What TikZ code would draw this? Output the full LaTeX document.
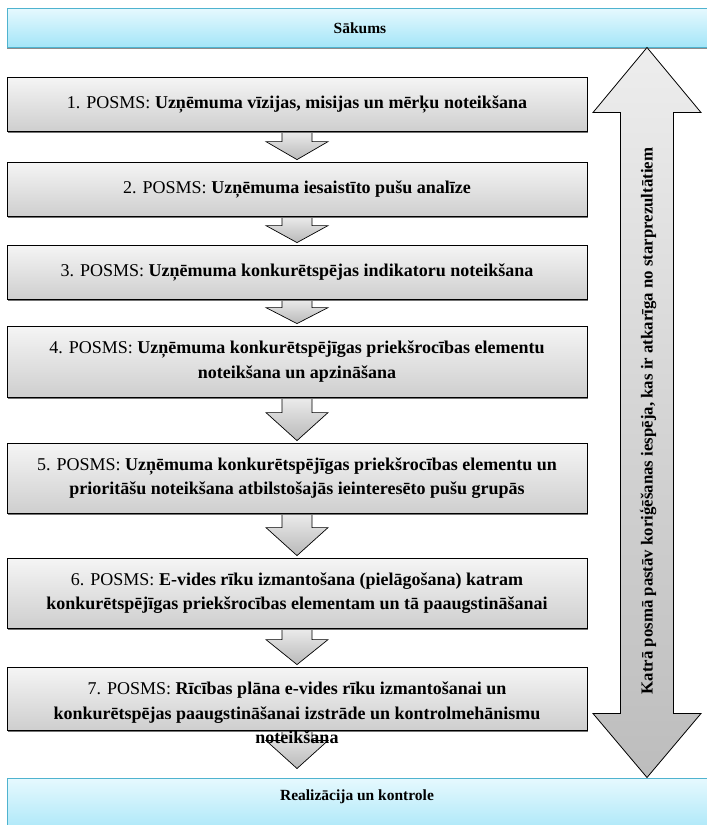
\documentclass[tikz,border=0pt]{standalone}
\usepackage{fontspec}
\setmainfont{Liberation Serif}
\usetikzlibrary{shadows,calc,backgrounds}
\definecolor{cyanedge}{HTML}{4FB3CF}
\definecolor{cyantop}{HTML}{E6F9FE}
\definecolor{cyanbot}{HTML}{A4E5F8}
\tikzset{
  stepbox/.style={draw=black, line width=0.8pt, top color=gray!8, bottom color=gray!38,
    drop shadow={shadow xshift=1.2pt, shadow yshift=-1.8pt, fill=black!55, opacity=1},
    minimum width=580pt, align=center, inner sep=0pt,
    font=\fontsize{18}{24.5}\selectfont},
  endbox/.style={draw=cyanedge, line width=1pt, top color=cyantop, bottom color=cyanbot,
    drop shadow={shadow xshift=0pt, shadow yshift=-1.8pt, fill=black!45, opacity=1},
    minimum width=706pt, inner sep=0pt},
  endtext/.style={font=\bfseries\fontsize{15.5}{18}\selectfont, inner sep=0pt},
  flowarrow/.style={draw=black, line width=0.7pt, top color=gray!15, bottom color=gray!55, line join=miter},
  bigarrow/.style={draw=black, line width=0.8pt, top color=gray!14, bottom color=gray!52, line join=miter},
}
\begin{document}
\begin{tikzpicture}[x=1pt,y=-1pt]
\useasboundingbox (0,0) rectangle (707,825);
\clip (0,0) rectangle (707,825);

% start / end boxes
\node[endbox, minimum height=39pt] (start) at (360,27.5) {};
\node[endtext] (starttxt) at (360,28) {Sākums};
\node[endbox, minimum height=60pt] (end) at (360,808) {};
\node[endtext] (endtxt) at (357,797) {Realizācija un kontrole};

% steps
\node[stepbox, minimum height=54pt] (b1) at (297,104) {1. POSMS: \textbf{Uzņēmuma vīzijas, misijas un mērķu noteikšana}};
\node[stepbox, minimum height=54pt] (b2) at (297,189) {2. POSMS: \textbf{Uzņēmuma iesaistīto pušu analīze}};
\node[stepbox, minimum height=54pt] (b3) at (297,272) {3. POSMS: \textbf{Uzņēmuma konkurētspējas indikatoru noteikšana}};
\node[stepbox, minimum height=71pt] (b4) at (297,361.5) {4. POSMS: \textbf{Uzņēmuma konkurētspējīgas priekšrocības elementu}\\ \textbf{noteikšana un apzināšana}};
\node[stepbox, minimum height=70pt] (b5) at (297,478) {5. POSMS: \textbf{Uzņēmuma konkurētspējīgas priekšrocības elementu un}\\ \textbf{prioritāšu noteikšana atbilstošajās ieinteresēto pušu grupās}};
\node[stepbox, minimum height=70pt] (b6) at (297,593) {6. POSMS: \textbf{E-vides rīku izmantošana (pielāgošana) katram}\\ \textbf{konkurētspējīgas priekšrocības elementam un tā paaugstināšanai}};
\node[stepbox, minimum height=63pt] (b7) at (297,698.5) {};
\node[align=center, inner sep=0pt, font=\fontsize{18}{24.5}\selectfont] (t7) at (297,713) {7. POSMS: \textbf{Rīcības plāna e-vides rīku izmantošanai un}\\ \textbf{konkurētspējas paaugstināšanai izstrāde un kontrolmehānismu}\\ \textbf{noteikšana}};

% flow arrows (behind boxes)
\begin{scope}[on background layer]
\foreach \a/\b/\h/\g in {b1/b2/18/2, b2/b3/17/2, b3/b4/16/2, b4/b5/28/2, b5/b6/28/2, b6/b7/25/2, b7/end/28/9}{
  \coordinate (tip) at (\b.north -| \a.south);
  \draw[flowarrow]
    ([xshift=-15pt]\a.south) -- ([xshift=15pt]\a.south)
    -- ([xshift=15pt,yshift=\h pt+\g pt]tip)
    -- ([xshift=31pt,yshift=\h pt+\g pt]tip)
    -- ([yshift=\g pt]tip)
    -- ([xshift=-31pt,yshift=\h pt+\g pt]tip)
    -- ([xshift=-15pt,yshift=\h pt+\g pt]tip) -- cycle;
}
\end{scope}

% big double arrow
\coordinate (up) at (start.south -| 647,0);
\coordinate (dn) at (end.north -| 647,0);
\draw[bigarrow] (up) -- ($(up)+(54,65)$) -- ($(up)+(26.5,65)$) -- ($(dn)+(26.5,-64)$)
  -- ($(dn)+(54,-64)$) -- (dn) -- ($(dn)+(-54,-64)$) -- ($(dn)+(-26.5,-64)$)
  -- ($(up)+(-26.5,65)$) -- ($(up)+(-54,65)$) -- cycle;
\node[rotate=90, inner sep=0pt, font=\bfseries\fontsize{16.8}{19}\selectfont] (note) at (648,421)
  {Katrā posmā pastāv koriģēšanas iespēja, kas ir atkarīga no starprezultātiem};
\end{tikzpicture}
\end{document}
